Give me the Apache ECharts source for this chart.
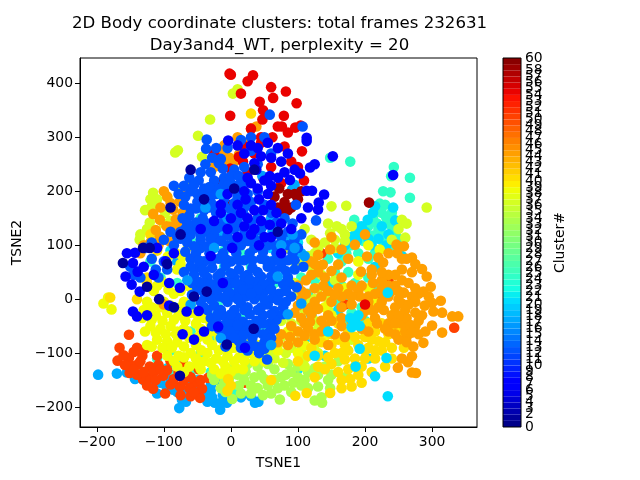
<!DOCTYPE html>
<html><head><meta charset="utf-8">
<script src="https://cdn.jsdelivr.net/npm/echarts@6/dist/echarts.min.js"></script>
<style>html,body{margin:0;padding:0;background:#fff}#c{width:640px;height:480px}</style>
</head><body><div id="c"></div>
<script>
const titleLines = ['2D Body coordinate clusters: total frames 232631','Day3and4_WT, perplexity = 20'];
const xTicks = [-200,-100,0,100,200,300];
const yTicks = [-200,-100,0,100,200,300,400];
const colorbarLevels = Array.from({length:60},(_,i)=>i);

const turquoise = [[243,245],[239,228],[267,225],[267,188],[227,200],[238,198],[222,177],[230,175],[178,255],[148,262],[184,147],[212,150],[225,160],[240,160],[235,140],[220,130],[245,125],[228,118],[212,118],[250,112],[198,108],[180,100],[165,70],[175,50],[185,30],[165,25],[175,5],[160,-5],[180,-25],[195,-15],[240,100],[205,75],[-60,110],[-45,150],[-20,165],[30,60],[65,30],[-20,-10],[20,-30],[45,110],[-40,50],[10,150],[-10,90],[50,-60],[-130,-135],[-110,-125],[-90,-140],[-30,-135],[-45,-100],[5,-175],
[232,150],[218,140],[240,135],[205,135],[190,135],[228,100],[215,85],[250,90],[190,85],[172,85],[155,50],[145,75],[215,25],[205,40],[150,0],[200,-40],[170,-40],[125,35],[115,10],[105,40],[-10,60],[15,85],[0,20],[-35,-25],[40,5],[-60,-60],[-30,-70],[-75,-115],[-90,-95],[-110,-110],[10,-60],[-55,-130],[-60,-165],[-80,30],[-105,40],[-120,70],[60,70],[80,25]];
const cyan = [[212,160],[204,147],[192,123],[245,146],[200,125],[225,135],[185,120],[210,100],[232,100],[175,115],[255,80],[215,60],[150,30],[120,-30],
[195,135],[215,172],[205,112],[188,108],[220,112],[242,170],[235,120],[170,100],[160,85],[110,-75],[100,-130],[140,-105],[205,-110],[160,-20],[-70,120],[-90,90],[-10,140],[60,95],[100,105],[-50,-150],[-70,-130],[-95,-128]];
const lightBlue = [[-198,-140],[-170,-138],[-155,-136],[-77,-202],[-73,-186],[-16,-205],[-24,-192],[-6,-192],[36,-192],[41,-190],[-96,-162],[-86,-168],[-50,-175],[-40,-178],[-60,-155],[-130,-150],[-115,-148],[-30,-170],[-12,-178],[-105,-155],[95,212],[91,203],[60,150],[-10,120],[-30,200],[-80,70],[25,175],[70,85],
[-80,-172],[-70,-170],[-35,-190],[-15,-192],[-28,-182],[-45,-165],[-90,-150],[-8,-165],[-143,-148],[-122,-158],[-67,-190],[30,-180],[15,-182],[-110,-175],[-64,-175],[85,115],[105,85],[-30,-160],[-20,-150]];
const orangeRed = [[-166,-90],[-152,-66],[-169,-114],[-152,-109],[-151,-137],[-140,-90],[-138,-120],[-131,-149],[-116,-166],[-98,-175],[-121,-125],[-108,-122],[-101,-142],[-76,-162],[-60,-180],[-46,-183],[-54,-155],[-43,-166],[-34,-146],[-140,-140],[-120,-145],[-85,-148],[-65,-140],[-150,-122],[-110,-105],[-75,-178],[-48,-130],[-160,-104],[-132,-105],[333,-53],
[-145,-130],[-130,-135],[-135,-115],[-128,-92],[-115,-135],[-112,-150],[-95,-132],[-125,-160],[-105,-130],[-90,-158],[-70,-150],[-62,-165],[-55,-172],[-45,-150],[-60,-145],[-78,-135],[-158,-122],[-145,-98],[-90,-115],[-70,-122],[20,-155],[55,-100],[25,-60],[170,-10],[220,10],[235,35],[135,85]];
const limeBottom = [[136,-192],[125,-188],[130,-162],[148,-165],[93,-155],[73,-186],[80,-160],[110,-150],[130,-140],[60,-175],[40,-165],[15,-175],[-10,-155],[-25,-150],[45,-140],[65,-130],[85,-120],[20,-150],[-2,-130],[25,-120],[100,-145],[150,-140],[55,-160],[70,-165],[30,-160],[12,-160],[90,-172],[115,-165],[125,-128],[75,-145],[90,-135],[40,-125],[55,-120],[10,-140],[35,-145],[-15,-140],[100,-125],[140,-125],[160,-115],[170,-145],[135,-182],[-15,-165],[-3,-148],[45,-105],[20,-105],[-8,-172],[2,-185],[22,-135],[50,-148],[82,-140],[115,-135],[145,-150],[-28,-140],[65,-150],[105,-160],[30,-175],[48,-178]];
const limeYellow = [[3,381],[10,389],[-31,333],[-49,303],[-83,272],[-79,276],[-43,264],[-116,197],[-77,199],[-119,170],[-121,142],[-98,160],[-136,110],[172,173],[150,172],[158,135],[170,120],[148,122],[255,147],[260,114],[292,170],[110,-110],[130,-100],[60,-100],[95,-80],[75,-70],[90,-45],[110,-20],[130,20],[125,85],[140,105],[105,-95],[75,-40],[95,30],[105,65],[-105,115],[-100,140],[-60,215],
[125,-85],[115,-65],[82,-100],[70,-85],[105,-40],[125,-40],[145,0],[115,80],[130,95],[155,110],[180,135],[165,130],[145,140],[110,130],[120,110],[240,110],[262,140],[250,130],[-95,190],[-135,120],[-125,130],[-110,185],[-90,145],[-110,100],[85,95],[95,70],[135,-70],
[155,95],[170,108],[120,60],[135,45],[155,35],[145,-20],[125,0],[115,-5],[100,10],[85,-30],[100,-60],[130,-55],[155,-40],[180,-75],[90,-90],[65,-110],[78,-118],[110,-125],[-128,165],[-112,170],[-120,185]];
const yellow = [[-183,3],[-190,-8],[-178,-19],[-94,79],[-75,65],[-64,97],[-72,80],[-103,32],[-61,23],[-125,-5],[-115,15],[-100,-5],[-85,10],[-70,-5],[-130,-20],[-112,-30],[-95,-25],[-78,-30],[-60,-25],[-120,-50],[-105,-55],[-90,-50],[-70,-55],[-52,-45],[-40,-35],[-110,-75],[-95,-78],[-80,-80],[-62,-72],[-48,-70],[-30,-60],[-125,-85],[-95,-105],[-78,-105],[-60,-100],[-44,-95],[-28,-85],[-10,-80],[5,-90],[-80,-125],[-62,-125],[-40,-115],[-22,-110],[-5,-105],[12,-108],[28,-100],[-25,-130],[-8,-125],[8,-128],[-80,-60],[50,-115],[40,-85],
[-82,85],[-60,75],[-80,55],[-110,25],[-93,18],[-75,15],[-118,-15],[-105,-15],[-90,-12],[-75,-15],[-60,-10],[-132,-35],[-118,-38],[-102,-40],[-85,-38],[-68,-40],[-50,-30],[-128,-60],[-112,-62],[-97,-65],[-82,-65],[-65,-60],[-45,-55],[-30,-45],[-118,-88],[-102,-90],[-88,-90],[-70,-88],[-52,-85],[-35,-75],[-18,-70],[-85,-115],[-70,-108],[-52,-110],[-35,-100],[-18,-95],[-2,-92],[15,-85],[30,-80],[-70,-135],[-50,-120],[-30,-118],[-12,-115],[5,-115],[20,-115],[35,-115],[-45,-130],[-15,-138],[0,-135],[18,-130],[70,-95],[60,-75],[85,-60],[100,-100],[110,-85],[140,-70],[150,-30],[140,-15],[205,20],[215,-5],[190,45],[205,100],[222,92],[190,70],[170,20]];
const gold = [[96,-179],[113,-174],[148,-174],[180,-162],[195,-155],[165,-150],[130,-125],[150,-120],[175,-130],[195,-125],[215,-110],[225,-95],[200,-95],[175,-95],[155,-100],[135,-80],[160,-75],[185,-70],[210,-75],[235,-65],[115,-105],[100,-115],[125,-145],[210,-135],[230,-125],[0,-160],[-5,-170],[-110,90],[-120,120],[225,-45],[240,-30],[60,-150],[30,344],
[165,-165],[178,-148],[190,-140],[160,-135],[140,-130],[200,-110],[185,-110],[170,-112],[145,-108],[130,-105],[220,-78],[205,-90],[190,-85],[170,-85],[150,-85],[120,-90],[245,-50],[215,-60],[175,-60],[150,-65],[255,-60],[-4,-148],[-125,30],[-140,0],[-125,40],[240,-90],[258,-90],[160,-45],[185,-40],[205,-45],[230,-80],[215,-95],[185,-125],[165,-100],[200,-70],[-180,3],[240,-110]];
const orange = [[339,-32],[330,-32],[315,-62],[313,-3],[300,-7],[289,-12],[302,-23],[315,-25],[298,23],[292,42],[285,56],[270,77],[262,75],[287,14],[300,-49],[287,-81],[272,-88],[270,-106],[255,-110],[264,-117],[249,-127],[270,-136],[276,-137],[148,92],[165,92],[185,101],[203,79],[220,77],[235,85],[247,101],[119,70],[137,64],[160,64],[194,51],[227,68],[120,45],[140,40],[165,40],[210,45],[235,45],[255,55],[270,50],[100,25],[125,20],[145,15],[175,10],[195,25],[205,5],[225,20],[245,25],[265,30],[105,0],[125,-5],[150,-5],[180,-10],[205,-15],[225,-5],[250,0],[270,5],[95,-25],[120,-28],[145,-30],[195,-30],[215,-35],[240,-30],[260,-20],[275,-25],[90,-50],[115,-55],[140,-50],[165,-50],[195,-55],[255,-45],[275,-50],[290,-60],[75,-65],[100,-60],[125,-75],[170,-70],[205,-60],[235,-60],[250,-75],[262,-70],[60,-85],[85,-85],[145,-85],[30,316],[38,320],[10,300],[-16,264],[-10,270],[-5,255],[-20,250],[-25,245],[5,255],[-66,198],[-76,181],[-86,166],[-116,158],[-106,147],[-91,134],[-106,116],[-76,142],[-85,120],[-112,128],[-92,108],[-82,148],[150,115],[125,105],[200,120],
[275,65],[255,75],[258,98],[248,85],[130,82],[175,75],[150,52],[130,50],[190,15],[180,25],[160,20],[112,10],[135,5],[165,-15],[120,-15],[105,-35],[135,-40],[220,-15],[235,5],[258,12],[280,10],[295,5],[275,-5],[262,-35],[285,-30],[280,-40],[245,-15],[240,15],[212,30],[192,5],[205,-5],[225,35],[210,55],[218,-45],[180,-40],[260,-60],[280,-65],[268,-48],[150,-40],[125,-65],[110,-45],[88,-70],[100,-80],[70,-80],[155,-65],[-95,190],[-105,170],[-96,135],[-120,105],[-135,85],[-10,285],[-12,245],[-2,262],[12,268],[22,290],[-100,-10],[-108,100],[-72,160],
[215,10],[228,8],[200,-22],[212,-22],[228,-20],[255,-8],[265,-10],[250,-30],[235,-45],[250,15],[235,25],[275,20],[255,35],[245,45],[225,50],[180,5],[165,5],[155,8],[138,25],[112,35],[125,65],[105,15],[115,-20],[130,-18],[100,-12],[135,-60],[110,-68],[118,-42],[165,-35],[245,-65],[270,-62],[245,-45],[230,-55],[262,-80],[-130,100],[-100,200],[-90,178],[-80,132]];
const brightCyan = [[234,-180],[232,-109],[186,-125],[215,-143],[192,-92],[186,-44],[178,-35],[190,-30],[180,-52],[192,-50],[234,12],[125,-105],[145,-60]];
const red = [[-2,418],[25,404],[33,415],[15,381],[60,393],[63,373],[43,366],[48,350],[47,333],[-1,340],[30,316],[70,320],[82,385],[98,363],[79,340],[76,320],[85,309],[96,318],[104,322],[80,283],[106,274],[109,220],[12,264],[18,285],[48,225],[35,270],[60,245],[90,255],[45,300],[25,235],[75,215],[200,-10],[-40,190],
[0,416],[45,290],[62,300],[100,245],[-25,270],[18,255],[-1,242]];
const darkRed = [[-21,216],[206,179],[85,195],[95,195],[105,200],[80,180],[90,170],[75,165],[65,190],[100,185],[-5,175],[70,170],[85,165],[72,205]];
const blue = [[-36,296],[-37,279],[58,342],[107,320],[30,300],[50,300],[15,295],[-15,260],[5,240],[20,245],[40,250],[60,270],[-30,235],[-48,220],[-10,225],[-60,200],[-40,205],[-20,205],[0,215],[20,215],[40,200],[-70,175],[-50,180],[-30,180],[-10,185],[10,190],[30,180],[50,175],[97,175],[-62,155],[-42,150],[-22,160],[0,165],[20,155],[40,150],[60,160],[80,150],[127,146],[-75,125],[-55,130],[-35,125],[-15,135],[5,130],[25,125],[45,130],[65,125],[85,125],[105,120],[-85,100],[-65,105],[-45,95],[-25,105],[-5,100],[15,100],[35,95],[55,100],[75,105],[100,95],[-60,75],[-40,70],[-18,75],[0,70],[20,72],[45,75],[62,70],[85,72],[108,60],[-55,45],[-35,40],[-15,48],[5,40],[25,45],[45,42],[65,52],[85,40],[-50,20],[-28,15],[-8,20],[12,15],[30,25],[50,15],[72,10],[90,5],[-45,-5],[-25,-12],[-5,-5],[15,-8],[35,0],[55,-10],[78,-15],[-30,-35],[-12,-30],[8,-32],[28,-28],[48,-30],[68,-38],[-18,-55],[0,-52],[18,-58],[38,-50],[58,-60],[-5,-75],[12,-78],[32,-72],[50,-80],[25,-95],[42,-100],[54,-112],[-150,60],[-135,40],[-112,55],[-100,70],[-128,95],[-90,125],
[-22,280],[-5,280],[30,275],[-12,242],[-38,250],[0,228],[12,228],[-25,220],[-50,195],[-30,192],[-12,200],[8,202],[25,195],[-60,168],[-40,165],[-20,172],[5,178],[20,170],[-72,150],[-52,142],[-32,140],[-10,148],[10,142],[30,140],[50,138],[68,142],[92,140],[-65,115],[-45,110],[-25,118],[-5,118],[15,113],[35,112],[55,112],[75,115],[95,110],[-52,85],[-32,85],[-12,85],[8,85],[28,85],[48,88],[68,85],[92,85],[-70,50],[-48,60],[-28,58],[-8,62],[12,55],[32,58],[55,60],[75,60],[95,55],[-40,30],[-18,32],[0,30],[18,30],[38,32],[58,30],[78,28],[98,22],[-58,8],[-38,5],[-18,5],[2,5],[22,5],[42,8],[62,2],[82,-5],[-35,-20],[-15,-20],[5,-20],[25,-15],[45,-15],[65,-22],[-22,-42],[-2,-42],[18,-42],[38,-40],[58,-45],[-10,-65],[8,-65],[28,-62],[48,-65],[60,-72],[20,-85],[38,-88],[-118,75],[-95,55],[-108,40],[-145,45],[-118,105],[-100,110],[-62,225],[-10,215],[-45,235],[-78,195],[-70,210],[-85,210],
[-18,252],[-28,262],[-32,208],[-55,212],[-68,190],[-42,192],[-22,195],[-5,210],[12,212],[-52,168],[-32,170],[-10,172],[8,155],[-65,140],[-42,138],[-22,130],[0,140],[20,128],[40,128],[-75,112],[-55,98],[-35,98],[-15,108],[5,108],[25,108],[45,102],[65,100],[85,100],[-68,88],[-48,72],[-28,72],[-8,75],[12,72],[32,72],[52,72],[72,72],[95,72],[-60,60],[-40,48],[-20,42],[0,48],[20,42],[40,50],[60,42],[82,52],[-48,32],[-30,28],[-8,32],[8,28],[28,36],[48,28],[68,38],[88,28],[-42,15],[-20,18],[-2,12],[18,18],[40,18],[60,18],[82,15],[-30,0],[-10,2],[10,0],[30,10],[50,0],[70,-2],[-40,-15],[-20,-28],[0,-28],[20,-20],[40,-20],[60,-28],[78,-28],[-28,-50],[-10,-48],[10,-48],[28,-48],[48,-45],[65,-55],[-2,-60],[18,-68],[38,-62],[15,-90],[32,-85],[50,-92],[-8,-88],[5,-72],[-60,120],[-45,118],[-30,112],[-80,115],[-68,130],[-42,55],[-58,30]];
const lighterBlue = [[-65,35],[-15,-72],[-60,-10],[-25,95],[-5,150],[60,-85],[-85,-15],[62,125],[95,95],[110,80],[105,-8],[70,42],[85,-28],[75,100],[92,120],[47,228],[-15,195],[-38,170]];
const darkBlue = [[-4,294],[113,299],[113,293],[125,250],[118,244],[103,233],[88,221],[121,201],[113,201],[139,194],[131,179],[130,166],[115,170],[152,265],[242,230],[-143,86],[-146,67],[-157,42],[-139,51],[-148,27],[-136,14],[-146,-23],[-140,-32],[-76,21],[-66,-23],[-19,-51],[21,-90],[-97,70],[-110,95],[-85,85],[30,285],[55,290],[70,280],[45,265],[20,270],[75,255],[95,240],[50,220],[70,225],[30,215],[55,195],[20,200],[35,165],[60,175],[45,145],[75,140],[-5,195],[90,130],[105,150],[-15,175],[20,135],[60,115],[75,85],
[10,285],[40,280],[60,262],[85,270],[38,240],[58,228],[25,225],[40,205],[10,175],[25,150],[48,165],[68,160],[58,138],[30,120],[42,100],[10,115],[-5,130],[-25,145],[-45,130],[2,95],[-30,80],[-12,30],[-48,-22],[-130,60],[-125,-30],[-115,45],[-155,85],[-92,-12],[-55,-75],[-92,30],[-40,-60],[-72,-65],
[35,252],[60,210],[80,235],[22,185],[42,185],[15,160],[35,130],[50,115],[0,150],[-15,160]];
const navy = [[-161,67],[-125,23],[-76,-142],[-6,-84],[34,-55],[-36,14],[-55,5],[-121,95],[-131,95],[-60,240],[-40,185],[-90,170],[5,205],[35,240],[70,125],[-75,120],[-107,0],[-95,65],[-85,-15]];

const layers = [[24,turquoise],[20,cyan],[17,lightBlue],[50,orangeRed],[33,limeBottom],[36,limeYellow],[38,yellow],[40,gold],[44,orange],[20,brightCyan],[54,red],[58,darkRed],[12,blue],[16,lighterBlue],[6,darkBlue],[1,navy]];

function jet(t){
  const clamp=v=>Math.max(0,Math.min(1,v));
  const seg=(pts)=>{for(let i=1;i<pts.length;i++){if(t<=pts[i][0]){const a=pts[i-1],b=pts[i];return a[1]+(b[1]-a[1])*(t-a[0])/(b[0]-a[0]);}}return pts[pts.length-1][1];};
  const r=seg([[0,0],[.35,0],[.66,1],[.89,1],[1,.5]]),g=seg([[0,0],[.125,0],[.375,1],[.64,1],[.91,0],[1,0]]),b=seg([[0,.5],[.11,1],[.34,1],[.65,0],[1,0]]);
  return `rgb(${Math.round(clamp(r)*255)},${Math.round(clamp(g)*255)},${Math.round(clamp(b)*255)})`;
}
const clusterColor=c=>jet((c+.5)/60);
const FONT='"DejaVu Sans"';
const axisCommon={axisLine:{onZero:false,lineStyle:{color:'#000',width:1}},axisTick:{length:5,lineStyle:{color:'#000',width:1}},splitLine:{show:false},nameTextStyle:{color:'#000',fontSize:13.9,fontFamily:FONT}};
const labelStyle={color:'#000',fontSize:13.9,fontFamily:FONT};
const minus=v=>String(v).replace('-','\u2212');
const chart=echarts.init(document.getElementById('c'),null,{renderer:'canvas'});
chart.setOption({
  animation:false,backgroundColor:'#fff',
  title:{text:titleLines.join('\n'),left:274.5,top:8,textAlign:'center',textStyle:{color:'#000',fontSize:16.6,fontWeight:'normal',fontFamily:FONT,lineHeight:22}},
  grid:[{left:80,top:58,width:397,height:369,show:true,borderColor:'#000',borderWidth:1,backgroundColor:'transparent'},
        {left:503,top:58,width:18,height:369,show:true,borderColor:'#000',borderWidth:1,backgroundColor:'transparent',z:6}],
  xAxis:[Object.assign({},axisCommon,{gridIndex:0,type:'value',min:-225,max:367,name:'TSNE1',nameLocation:'middle',nameGap:29,
           axisTick:Object.assign({},axisCommon.axisTick,{customValues:xTicks}),axisLabel:Object.assign({},labelStyle,{margin:8,customValues:xTicks,formatter:minus})}),
         {gridIndex:1,type:'category',data:['bar'],show:false}],
  yAxis:[Object.assign({},axisCommon,{gridIndex:0,type:'value',min:-237,max:447,name:'TSNE2',nameLocation:'middle',nameGap:42,
           axisTick:Object.assign({},axisCommon.axisTick,{customValues:yTicks}),axisLabel:Object.assign({},labelStyle,{margin:7,customValues:yTicks,formatter:minus,lineHeight:18,padding:[4,0,0,0]})}),
         Object.assign({},axisCommon,{gridIndex:1,type:'value',position:'right',min:0,max:60,interval:1,name:'Cluster#',nameLocation:'middle',nameGap:32,nameRotate:90,
           axisLabel:Object.assign({},labelStyle,{margin:4,lineHeight:18,padding:[4,0,0,0],showMinLabel:true,showMaxLabel:true,hideOverlap:false})})],
  series:layers.map(([c,pts])=>({type:'scatter',xAxisIndex:0,yAxisIndex:0,data:pts,symbolSize:10.6,itemStyle:{color:clusterColor(c),opacity:1},silent:true,large:false}))
    .concat(colorbarLevels.map(c=>({type:'bar',xAxisIndex:1,yAxisIndex:1,stack:'cb',data:[1],barWidth:'100%',itemStyle:{color:clusterColor(c)},silent:true})))
});
</script></body></html>
